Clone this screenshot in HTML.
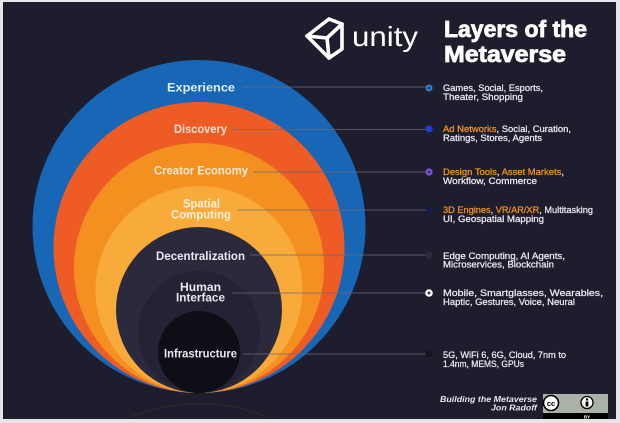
<!DOCTYPE html>
<html>
<head>
<meta charset="utf-8">
<style>
  html,body{margin:0;padding:0;background:#e8e8ea;}
  body{width:620px;height:423px;overflow:hidden;}
  svg{display:block;}
  .lbl{font-family:"Liberation Sans",sans-serif;font-weight:bold;font-size:12px;}
  .rt{font-family:"Liberation Sans",sans-serif;font-size:9px;fill:#e9e9f0;}
  .hl{fill:#f7941d;}
</style>
</head>
<body>
<svg width="620" height="423" viewBox="0 0 620 423" xmlns="http://www.w3.org/2000/svg">
  <!-- border / background -->
  <rect x="0" y="0" width="620" height="423" fill="#e6e6e8"/>
  <rect x="3" y="2" width="613" height="417" fill="#1e1d2d"/>

  <!-- faint reflection -->
  <path d="M125 419 Q199 388 273 419" fill="none" stroke="#4a3528" stroke-width="1.2" opacity="0.4"/>

  <!-- concentric (tangent) circles -->
  <circle cx="199" cy="226.5" r="166.5" fill="#1767b6"/>
  <circle cx="199" cy="247.5" r="145.5" fill="#ee5b25"/>
  <circle cx="199" cy="268" r="125" fill="#f4901f"/>
  <circle cx="199" cy="289.5" r="103.5" fill="#f8aa3a"/>
  <circle cx="199" cy="310" r="83" fill="#2b2a3d"/>
  <circle cx="199" cy="332" r="61" fill="#242335"/>
  <circle cx="199" cy="352" r="41" fill="#0e0e16"/>

  <!-- connector lines -->
  <g stroke="#6a6a7a" stroke-width="0.8">
    <line x1="243" y1="87" x2="426" y2="87"/>
    <line x1="232" y1="129.5" x2="426" y2="129.5"/>
    <line x1="253" y1="172" x2="426" y2="172"/>
    <line x1="238" y1="210" x2="426" y2="210"/>
    <line x1="250" y1="255" x2="426" y2="255"/>
    <line x1="232" y1="293" x2="426" y2="293"/>
    <line x1="243" y1="354" x2="426" y2="354"/>
  </g>

  <!-- dots -->
  <circle cx="429" cy="88" r="3.5" fill="#2a7fd0"/><circle cx="429" cy="88" r="1.4" fill="#1e3a66"/>
  <circle cx="429" cy="129" r="3.6" fill="#1c3fd4"/>
  <circle cx="429" cy="172" r="3.6" fill="#7b52e0"/><circle cx="429" cy="172" r="1.4" fill="#3a2a7a"/>
  <circle cx="429" cy="210" r="3.6" fill="#151a4c"/>
  <circle cx="429" cy="255" r="3.6" fill="#2c2b3b"/>
  <circle cx="429" cy="293" r="3.8" fill="#ffffff"/><circle cx="429" cy="293" r="1.4" fill="#2a2a3a"/>
  <circle cx="429" cy="354" r="3.6" fill="#141420"/>

  <!-- circle labels -->
  <text class="lbl" x="167" y="91.5" textLength="68" lengthAdjust="spacingAndGlyphs" fill="#e4eefa">Experience</text>
  <text class="lbl" x="174" y="133" textLength="53" lengthAdjust="spacingAndGlyphs" fill="#fde2d4">Discovery</text>
  <text class="lbl" x="154" y="174.5" textLength="94" lengthAdjust="spacingAndGlyphs" fill="#feead6">Creator Economy</text>
  <text class="lbl" x="183" y="207.5" textLength="37" lengthAdjust="spacingAndGlyphs" fill="#fff2dc">Spatial</text>
  <text class="lbl" x="171" y="218.5" textLength="60" lengthAdjust="spacingAndGlyphs" fill="#fff2dc">Computing</text>
  <text class="lbl" x="156" y="260" textLength="89" lengthAdjust="spacingAndGlyphs" fill="#e8e8f0">Decentralization</text>
  <text class="lbl" x="180" y="291" textLength="41" lengthAdjust="spacingAndGlyphs" fill="#e8e8f0">Human</text>
  <text class="lbl" x="176" y="301.5" textLength="49" lengthAdjust="spacingAndGlyphs" fill="#e8e8f0">Interface</text>
  <text class="lbl" x="164" y="357.5" textLength="73" lengthAdjust="spacingAndGlyphs" fill="#e8e8f0">Infrastructure</text>

  <!-- right descriptions -->
  <g stroke="#e9e9f0" stroke-width="0.25">
  <text class="rt" x="443" y="91" textLength="100" lengthAdjust="spacingAndGlyphs">Games, Social, Esports,</text>
  <text class="rt" x="443" y="100" textLength="80" lengthAdjust="spacingAndGlyphs">Theater, Shopping</text>

  <text class="rt" x="443" y="132" textLength="128" lengthAdjust="spacingAndGlyphs"><tspan class="hl" stroke="#f7941d">Ad Networks</tspan>, Social, Curation,</text>
  <text class="rt" x="443" y="141" textLength="99" lengthAdjust="spacingAndGlyphs">Ratings, Stores, Agents</text>

  <text class="rt" x="443" y="175" textLength="121" lengthAdjust="spacingAndGlyphs"><tspan class="hl" stroke="#f7941d">Design Tools</tspan>, <tspan class="hl" stroke="#f7941d">Asset Markets</tspan>,</text>
  <text class="rt" x="443" y="184" textLength="94" lengthAdjust="spacingAndGlyphs">Workflow, Commerce</text>

  <text class="rt" x="443" y="213" textLength="150" lengthAdjust="spacingAndGlyphs"><tspan class="hl" stroke="#f7941d">3D Engines</tspan>, <tspan class="hl" stroke="#f7941d">VR/AR/XR</tspan>, Multitasking</text>
  <text class="rt" x="443" y="222" textLength="101" lengthAdjust="spacingAndGlyphs">UI, Geospatial Mapping</text>

  <text class="rt" x="443" y="259" textLength="122" lengthAdjust="spacingAndGlyphs">Edge Computing, AI Agents,</text>
  <text class="rt" x="443" y="267.5" textLength="111" lengthAdjust="spacingAndGlyphs">Microservices, Blockchain</text>

  <text class="rt" x="443" y="296" textLength="160" lengthAdjust="spacingAndGlyphs">Mobile, Smartglasses, Wearables,</text>
  <text class="rt" x="443" y="305" textLength="132" lengthAdjust="spacingAndGlyphs">Haptic, Gestures, Voice, Neural</text>

  <text class="rt" x="443" y="358" textLength="123" lengthAdjust="spacingAndGlyphs">5G, WiFi 6, 6G, Cloud, 7nm to</text>
  <text class="rt" x="443" y="367" textLength="81" lengthAdjust="spacingAndGlyphs">1.4nm, MEMS, GPUs</text>
  </g>

  <!-- unity logo -->
  <g fill="none" stroke="#ffffff" stroke-width="3.6" stroke-linejoin="round" stroke-linecap="round">
    <path d="M307 36 L329 19 L342 24 L342 49 L329 58 Z"/>
    <path d="M307 36 L327 38 L342 24"/>
    <path d="M327 38 L329 58"/>
  </g>
  <text x="352" y="46" font-family="Liberation Sans, sans-serif" font-size="28" fill="#ffffff" textLength="66" lengthAdjust="spacingAndGlyphs">unity</text>

  <!-- title -->
  <text x="444" y="37" font-family="Liberation Sans, sans-serif" font-weight="bold" font-size="23" fill="#ffffff" textLength="143" lengthAdjust="spacingAndGlyphs" stroke="#ffffff" stroke-width="0.8">Layers of the</text>
  <text x="444" y="62" font-family="Liberation Sans, sans-serif" font-weight="bold" font-size="23" fill="#ffffff" textLength="122" lengthAdjust="spacingAndGlyphs" stroke="#ffffff" stroke-width="0.8">Metaverse</text>

  <!-- footer -->
  <text x="537" y="402" text-anchor="end" font-family="Liberation Sans, sans-serif" font-style="italic" font-weight="bold" font-size="8.5" fill="#e6e6ee" textLength="97" lengthAdjust="spacingAndGlyphs">Building the Metaverse</text>
  <text x="537" y="410.5" text-anchor="end" font-family="Liberation Sans, sans-serif" font-style="italic" font-weight="bold" font-size="8.5" fill="#e6e6ee" textLength="46" lengthAdjust="spacingAndGlyphs">Jon Radoff</text>

  <!-- CC BY badge -->
  <rect x="543" y="394" width="65" height="25" fill="#aab2a8"/>
  <rect x="543" y="413" width="65" height="6" fill="#000000"/>
  <circle cx="551" cy="403" r="7.5" fill="#ffffff" stroke="#000" stroke-width="1.6"/>
  <text x="551" y="406" text-anchor="middle" font-family="Liberation Sans, sans-serif" font-weight="bold" font-size="7.5" fill="#000">cc</text>
  <circle cx="587" cy="402.5" r="6" fill="#ffffff" stroke="#000" stroke-width="1.3"/>
  <circle cx="587" cy="399.5" r="1.2" fill="#000"/>
  <rect x="585.6" y="401.5" width="2.8" height="5" fill="#000"/>
  <text x="587" y="418.3" text-anchor="middle" font-family="Liberation Sans, sans-serif" font-weight="bold" font-size="4.5" fill="#ffffff">BY</text>
</svg>
</body>
</html>
